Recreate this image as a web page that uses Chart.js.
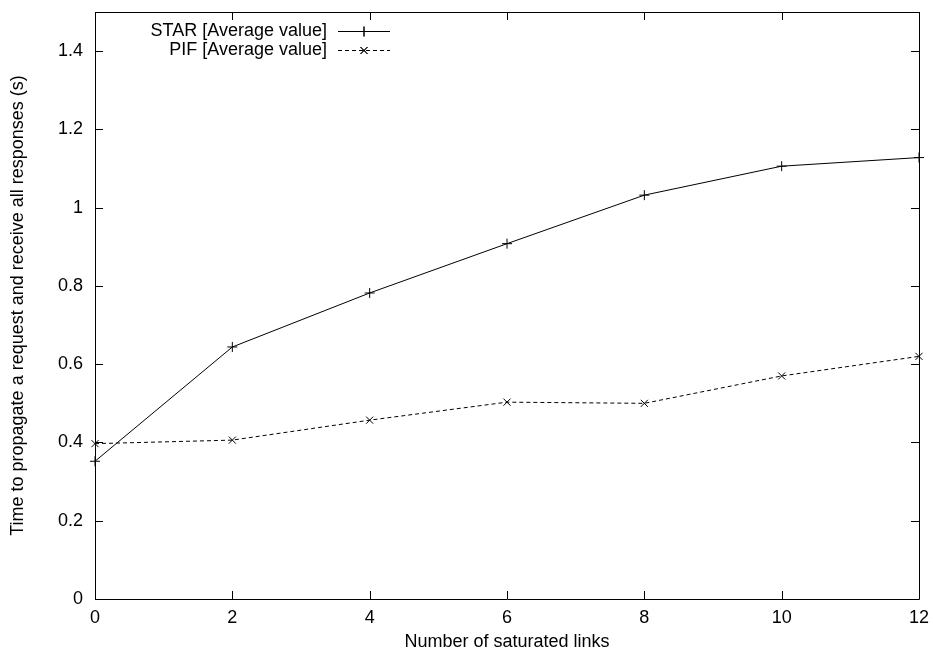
<!DOCTYPE html>
<html><head><meta charset="utf-8">
<script src="https://cdn.jsdelivr.net/npm/chart.js@4/dist/chart.umd.min.js"></script>
<style>html,body{margin:0;padding:0;background:#fff;}#wrap{width:933px;height:653px;}</style>
</head><body><div id="wrap"><canvas id="c" width="933" height="653"></canvas></div>
<script>
const linksX = [0, 2, 4, 6, 8, 10, 12];
const starValues = [0.352, 0.644, 0.782, 0.908, 1.032, 1.106, 1.128];
const pifValues = [0.397, 0.406, 0.457, 0.503, 0.500, 0.570, 0.620];
const xTicks = [0, 2, 4, 6, 8, 10, 12];
const yTicks = [0, 0.2, 0.4, 0.6, 0.8, 1, 1.2, 1.4];
const seriesNames = ['STAR [Average value]', 'PIF [Average value]'];

const FONT = 'Liberation Sans, Arial, sans-serif';
Chart.defaults.font.family = FONT;
Chart.defaults.font.size = 18;
Chart.defaults.color = '#000';

const framePlugin = {
  id: 'frame',
  afterDraw(chart) {
    const {ctx, chartArea: a, scales} = chart;
    ctx.save();
    ctx.strokeStyle = '#000';
    ctx.lineWidth = 1;
    ctx.setLineDash([]);
    ctx.beginPath();
    ctx.rect(Math.round(a.left) + 0.5, Math.round(a.top) + 0.5, Math.round(a.right - a.left), Math.round(a.bottom - a.top));
    ctx.stroke();
    const tl = 8;
    ctx.beginPath();
    xTicks.forEach(v => {
      const px = Math.round(scales.x.getPixelForValue(v)) + 0.5;
      ctx.moveTo(px, a.bottom); ctx.lineTo(px, a.bottom - tl);
      ctx.moveTo(px, a.top); ctx.lineTo(px, a.top + tl);
    });
    yTicks.forEach(v => {
      const py = Math.round(scales.y.getPixelForValue(v)) + 0.5;
      ctx.moveTo(a.left, py); ctx.lineTo(a.left + tl, py);
      ctx.moveTo(a.right, py); ctx.lineTo(a.right - tl, py);
    });
    ctx.stroke();
    // legend
    ctx.font = '18px ' + FONT;
    ctx.fillStyle = '#000';
    ctx.textAlign = 'right';
    ctx.textBaseline = 'middle';
    const rows = [{y: 31, ds: chart.data.datasets[0]}, {y: 50, ds: chart.data.datasets[1]}];
    rows.forEach((r, i) => {
      ctx.fillText(seriesNames[i], 327, r.y);
      ctx.beginPath();
      ctx.setLineDash(r.ds.borderDash || []);
      ctx.moveTo(338, r.y + 0.5); ctx.lineTo(390, r.y + 0.5);
      ctx.stroke();
      ctx.setLineDash([]);
      Chart.helpers.drawPoint(ctx, {pointStyle: r.ds.pointStyle, radius: r.ds.pointRadius, rotation: 0, borderWidth: 1}, 364, r.y + 0.5);
      ctx.stroke();
    });
    ctx.restore();
  }
};

new Chart(document.getElementById('c'), {
  type: 'line',
  data: {
    datasets: [
      {
        label: seriesNames[0],
        data: linksX.map((x, i) => ({x, y: starValues[i]})),
        borderColor: '#000', backgroundColor: '#000',
        borderWidth: 1, pointStyle: 'cross', pointRadius: 5,
        pointBorderWidth: 1, pointBorderColor: '#000', tension: 0, clip: false
      },
      {
        label: seriesNames[1],
        data: linksX.map((x, i) => ({x, y: pifValues[i]})),
        borderColor: '#000', backgroundColor: '#000',
        borderWidth: 1, borderDash: [4, 3], pointStyle: 'crossRot', pointRadius: 5,
        pointBorderWidth: 1, pointBorderColor: '#000', tension: 0, clip: false
      }
    ]
  },
  options: {
    responsive: false, animation: false,
    layout: {padding: {left: 0, right: 14, top: 12, bottom: 0}},
    plugins: {legend: {display: false}, tooltip: {enabled: false}},
    scales: {
      x: {
        type: 'linear', min: 0, max: 12,
        afterBuildTicks: s => { s.ticks = xTicks.map(v => ({value: v})); },
        afterFit: s => { s.height = 54; s.paddingLeft = 0; s.paddingRight = 0; },
        grid: {display: false, drawTicks: false},
        border: {display: false},
        ticks: {padding: 8, maxRotation: 0, callback: v => String(v)},
        title: {display: true, text: 'Number of saturated links', padding: {top: 0, bottom: 0}}
      },
      y: {
        type: 'linear', min: 0, max: 1.5,
        afterBuildTicks: s => { s.ticks = yTicks.map(v => ({value: v})); },
        afterFit: s => { s.width = 95; s.paddingTop = 0; s.paddingBottom = 0; },
        grid: {display: false, drawTicks: false},
        border: {display: false},
        ticks: {padding: 12, callback: v => String(v)},
        title: {display: true, text: 'Time to propagate a request and receive all responses (s)', padding: {top: 7, bottom: 0}}
      }
    }
  },
  plugins: [framePlugin]
});
</script></body></html>
